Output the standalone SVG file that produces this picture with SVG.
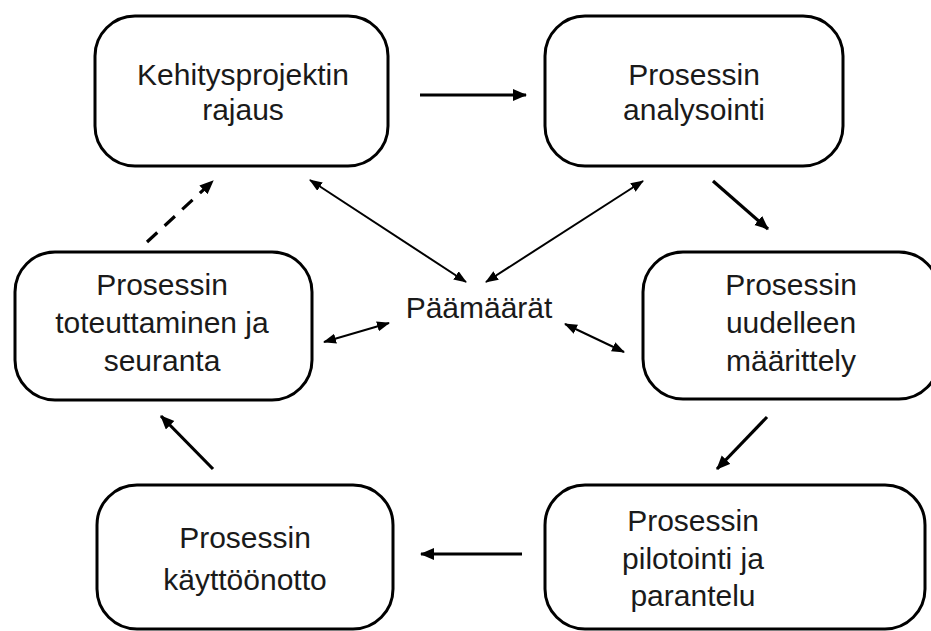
<svg xmlns="http://www.w3.org/2000/svg" width="931" height="631" viewBox="0 0 931 631">
<defs>
<style>
.box{fill:#fff;stroke:#000;stroke-width:3}
.t{font-family:"Liberation Sans",Arial,sans-serif;font-size:30px;fill:#1a1a1a;text-anchor:middle}
.thick{stroke:#000;stroke-width:3.2;fill:none}
.thin{stroke:#000;stroke-width:2;fill:none}
</style>
<marker id="ah" markerUnits="userSpaceOnUse" markerWidth="16" markerHeight="14" refX="13" refY="6" orient="auto">
<path d="M0,0 L14,6 L0,12 Z" fill="#000"/>
</marker>
<marker id="as" markerUnits="userSpaceOnUse" markerWidth="14" markerHeight="12" refX="12" refY="5" orient="auto-start-reverse">
<path d="M0,0 L13,5 L0,10 Z" fill="#000"/>
</marker>
</defs>
<rect width="931" height="631" fill="#fff"/>

<g id="n1"><rect class="box" x="95" y="16" width="293" height="150" rx="40"/>
<text class="t" x="243" y="85">Kehitysprojektin</text><text class="t" x="243" y="120">rajaus</text></g>

<g id="n2"><rect class="box" x="545" y="16" width="298" height="150" rx="40"/>
<text class="t" x="694" y="85">Prosessin</text><text class="t" x="694" y="120">analysointi</text></g>

<g id="n3"><rect class="box" x="643" y="252" width="296" height="147" rx="40"/>
<text class="t" x="791" y="295">Prosessin</text><text class="t" x="791" y="333">uudelleen</text><text class="t" x="791" y="371">määrittely</text></g>

<g id="n4"><rect class="box" x="15" y="252" width="297" height="148" rx="40"/>
<text class="t" x="162" y="295">Prosessin</text><text class="t" x="162" y="333">toteuttaminen ja</text><text class="t" x="162" y="371">seuranta</text></g>

<g id="n5"><rect class="box" x="97" y="485" width="296" height="144" rx="40"/>
<text class="t" x="245" y="548">Prosessin</text><text class="t" x="245" y="590">käyttöönotto</text></g>

<g id="n6"><rect class="box" x="545" y="485" width="380" height="144" rx="40"/>
<text class="t" x="693" y="531">Prosessin</text><text class="t" x="693" y="569">pilotointi ja</text><text class="t" x="693" y="606">parantelu</text></g>

<g id="center"><text class="t" x="479" y="318">Päämäärät</text></g>

<g id="connectors">
<line class="thick" x1="420" y1="95" x2="526" y2="95" marker-end="url(#ah)"/>
<line class="thick" x1="713" y1="181" x2="768" y2="229" marker-end="url(#ah)"/>
<line class="thick" x1="767" y1="417" x2="717" y2="469" marker-end="url(#ah)"/>
<line class="thick" x1="522" y1="554" x2="421" y2="554" marker-end="url(#ah)"/>
<line class="thick" x1="213" y1="469" x2="161" y2="416" marker-end="url(#ah)"/>
<line class="thick" x1="147" y1="242" x2="213" y2="181" stroke-dasharray="14,10" marker-end="url(#ah)"/>
<line class="thin" x1="310" y1="180" x2="466" y2="282" marker-start="url(#as)" marker-end="url(#as)"/>
<line class="thin" x1="643" y1="181" x2="486" y2="282" marker-start="url(#as)" marker-end="url(#as)"/>
<line class="thin" x1="324" y1="342" x2="389" y2="323" marker-start="url(#as)" marker-end="url(#as)"/>
<line class="thin" x1="565" y1="324" x2="624" y2="352" marker-start="url(#as)" marker-end="url(#as)"/>
</g>
</svg>
